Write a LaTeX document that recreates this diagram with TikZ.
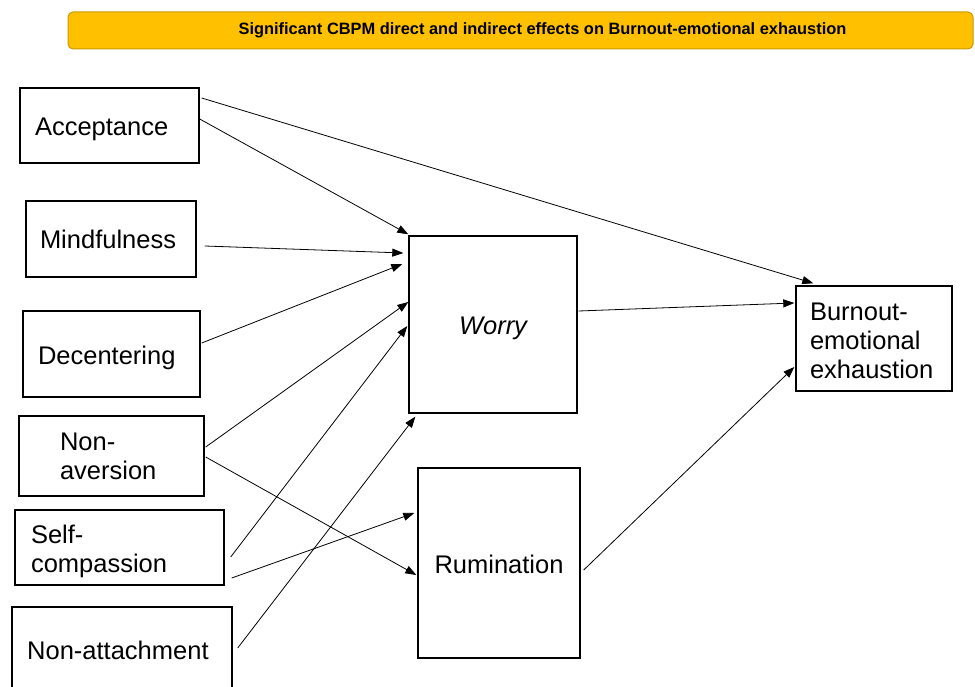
\documentclass[tikz,border=0pt]{standalone}
\usepackage{fontspec}
\setmainfont{Liberation Sans}
\usetikzlibrary{arrows.meta}
\definecolor{bannerfill}{HTML}{FFC000}
\definecolor{bannerline}{HTML}{C99A06}
\begin{document}
\begin{tikzpicture}[x=1pt,y=-1pt,
  box/.style={draw=black, line width=1.4pt, rectangle, inner ysep=0pt,
    font=\fontsize{25.5}{29}\selectfont, align=left},
  oneline/.style={text height=20pt, text depth=0pt},
  arr/.style={line width=0.8pt, -{Triangle[length=11pt,width=8pt]}},
  banner/.style={draw=bannerline, fill=bannerfill, line width=1pt,
    rounded corners=5pt, minimum width=905pt, minimum height=37pt, inner sep=0pt}]
\useasboundingbox (0,0) rectangle (975,687);

% heading bar
\node[banner] (banner) at (520.5,30.5) {};
\node[font=\bfseries\fontsize{16.4}{19}\selectfont, inner sep=0pt] (title) at (542.5,30.5)
  {Significant CBPM direct and indirect effects on Burnout-emotional exhaustion};

% predictor boxes
\node[box, oneline, minimum width=179pt, minimum height=75pt, text width=149pt, inner xsep=15pt] (acc) at (109.5,125.5) {Acceptance};
\node[box, oneline, minimum width=170pt, minimum height=76pt, text width=142pt, inner xsep=14pt] (mind) at (111,239) {Mindfulness};
\node[box, oneline, minimum width=177pt, minimum height=86pt, text width=147pt, inner xsep=15pt] (dec) at (111.5,354) {Decentering};
\node[box, minimum width=185pt, minimum height=80pt, text width=103pt, inner xsep=41pt] (nonav) at (111.5,456) {Non-\\aversion};
\node[box, minimum width=209pt, minimum height=75pt, text width=177pt, inner xsep=16pt] (selfc) at (119.5,547.5) {\rule{0pt}{26pt}Self-\\compassion};
\node[box, minimum width=220pt, minimum height=90pt, text width=190pt, inner xsep=15pt, text depth=0pt] (nonatt) at (122,652) {};
\node[font=\fontsize{25.5}{29}\selectfont, anchor=west, inner sep=0pt] (nonattlabel) at (27,650) {Non-attachment};

% mediators and outcome
\node[box, oneline, minimum width=168pt, minimum height=177pt, align=center] (worry) at (493,324.5) {\itshape Worry};
\node[box, oneline, minimum width=162pt, minimum height=190pt, align=center] (rum) at (499,563) {Rumination};
\node[box, minimum width=156pt, minimum height=105pt, text width=128pt, inner xsep=14pt] (burn) at (874,338.5) {\rule{0pt}{22pt}Burnout-\\emotional\\exhaustion};

% paths
\draw[arr] ([shift={(2,-27.5)}]acc.east) -- ([shift={(18,-2)}]burn.north west);
\draw[arr] ([shift={(0,-6.5)}]acc.east) -- ([shift={(0,-1)}]worry.north west);
\draw[arr] ([shift={(8,7)}]mind.east) -- ([shift={(-5,-71.5)}]worry.west);
\draw[arr] ([shift={(1,-11)}]dec.east) -- ([shift={(-6,-60.5)}]worry.west);
\draw[arr] ([shift={(1,-9)}]nonav.east) -- ([shift={(0,-22.5)}]worry.west);
\draw[arr] ([shift={(1,1)}]nonav.east) -- ([shift={(-1,12)}]rum.west);
\draw[arr] ([shift={(6,9.5)}]selfc.east) -- ([shift={(-1,1.5)}]worry.west);
\draw[arr] ([shift={(7,30.5)}]selfc.east) -- ([shift={(-3,-50)}]rum.west);
\draw[arr] ([shift={(5,-4)}]nonatt.east) -- ([shift={(7,3)}]worry.south west);
\draw[arr] ([shift={(1,-13.5)}]worry.east) -- ([shift={(-1,-35.5)}]burn.west);
\draw[arr] ([shift={(3,7)}]rum.east) -- ([shift={(-1,28.5)}]burn.west);
\end{tikzpicture}
\end{document}
